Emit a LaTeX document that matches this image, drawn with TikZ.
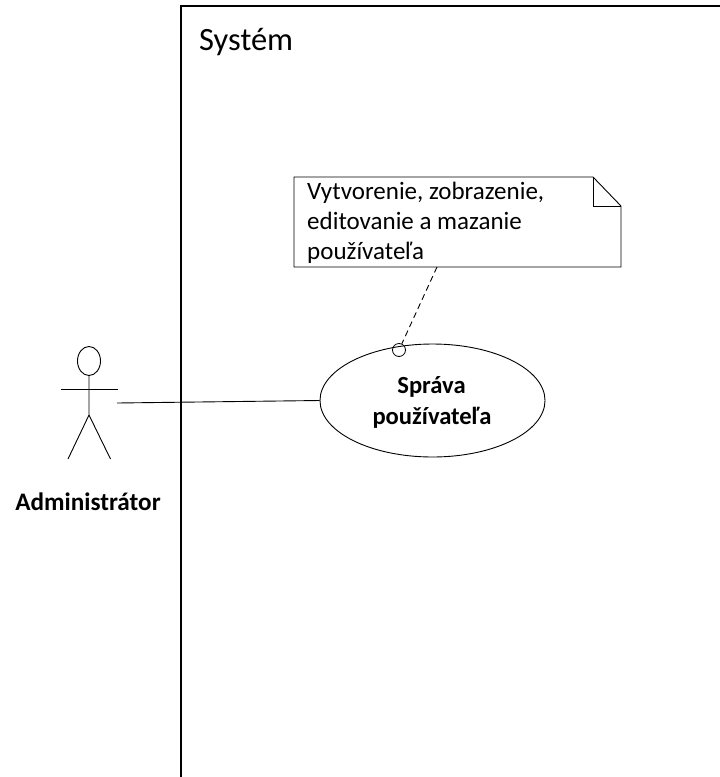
\documentclass[tikz,border=0pt]{standalone}
\usepackage{fontspec}
\setmainfont{Carlito}
\usetikzlibrary{shapes.geometric}
\tikzset{
  line/.style={draw=black,line width=0.9pt},
  boundary/.style={draw=black,line width=2pt},
  usecase/.style={ellipse,draw=black,line width=0.9pt,minimum width=225pt,minimum height=113pt,inner sep=0pt},
  uclabel/.style={anchor=base,inner sep=0pt,font=\fontsize{24.6}{24.6}\selectfont\bfseries},
  notetext/.style={anchor=base west,inner sep=0pt,font=\fontsize{25}{25}\selectfont},
  actorlabel/.style={anchor=base,inner sep=0pt,font=\fontsize{25.2}{25.2}\selectfont\bfseries},
  head/.style={ellipse,draw=black,line width=0.9pt,minimum width=23pt,minimum height=29pt,inner sep=0pt},
  pin/.style={circle,draw=black,line width=0.8pt,minimum size=13pt,inner sep=0pt},
  notebox/.style={rectangle,minimum width=327pt,minimum height=90pt,inner sep=0pt}
}
\begin{document}
\begin{tikzpicture}[x=1pt,y=-1pt]
\useasboundingbox (0,0) rectangle (720,777);
\fill[white] (0,0) rectangle (720,777);
% system boundary
\draw[boundary] (181,777) -- (181,6) -- (720,6);
\node[anchor=base west,inner sep=0pt,font=\fontsize{32.5}{32.5}\selectfont] (sys) at (199,50) {Systém};
% note
\node[notebox] (note) at (457.5,222) {};
\draw[line] (294,177) -- (593,177) -- (621,206) -- (621,267) -- (294,267) -- cycle;
\draw[line] (593,177) -- (593,206) -- (621,206);
\node[notetext] (n1) at (307,199) {Vytvorenie, zobrazenie,};
\node[notetext] (n2) at (307,229) {editovanie a mazanie};
\node[notetext] (n3) at (307,259) {používateľa};
% use case
\node[usecase] (uc) at (432.5,400.5) {};
\node[uclabel] (uc1) at (431.5,393) {Správa};
\node[uclabel] (uc2) at (432,424.5) {používateľa};
\node[pin] (pinc) at (399,350) {};
% actor
\node[head] (hd) at (89,361) {};
\coordinate (hip) at (89,415);
\coordinate (armL) at (61,389);
\coordinate (armR) at (117.5,389);
\coordinate (footL) at (68,459);
\coordinate (footR) at (110.5,459);
\coordinate (handle) at (117,403);
\coordinate (noteout) at (437,267);
\draw[line] (hd.south) -- (hip) -- (footL);
\draw[line] (hip) -- (footR);
\draw[line] (armL) -- (armR);
\node[actorlabel] (adm) at (88,510) {Administrátor};
% connectors
\draw[line] (handle) -- (uc.west);
\draw[line,dashed,dash pattern=on 6pt off 4pt] (noteout) -- (pinc);
\end{tikzpicture}
\end{document}
